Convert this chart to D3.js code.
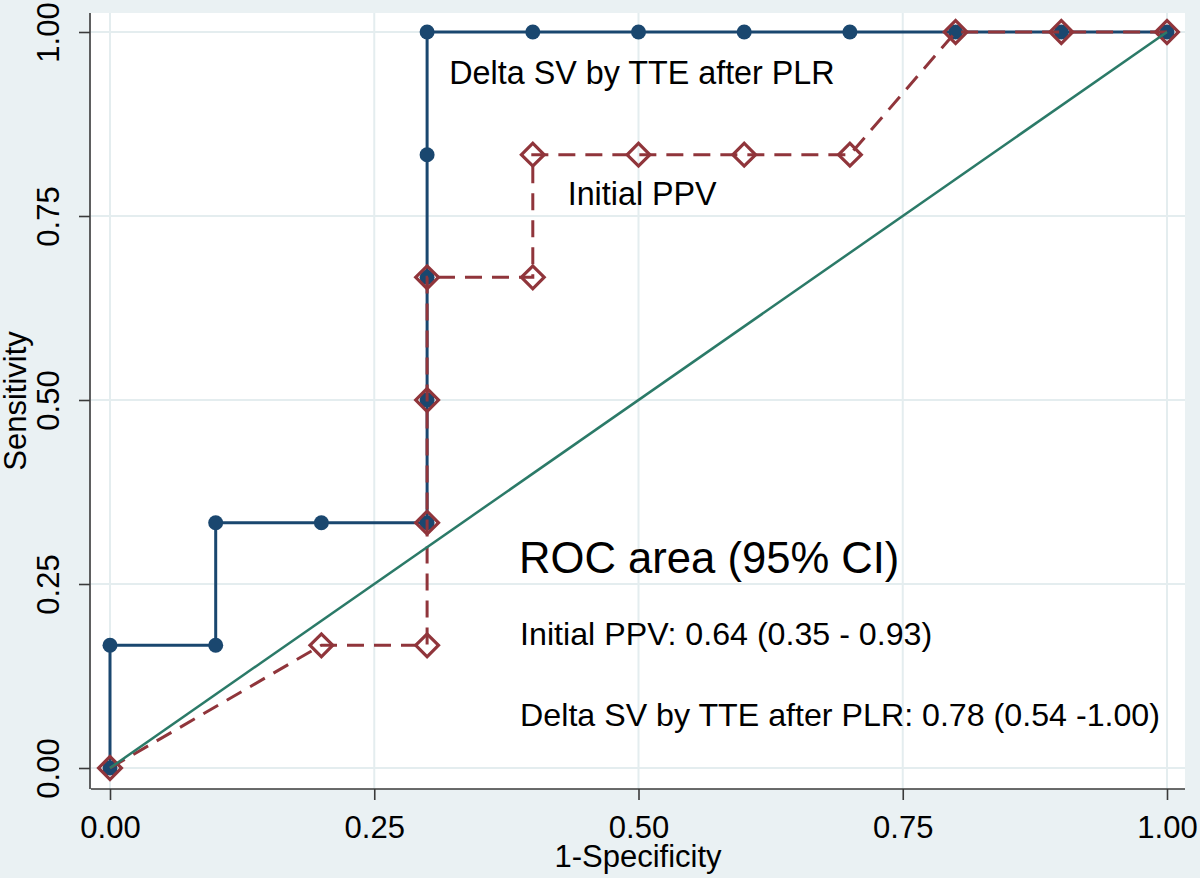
<!DOCTYPE html>
<html>
<head>
<meta charset="utf-8">
<script src="https://cdn.jsdelivr.net/npm/d3@7"></script>
<style>
  html, body { margin: 0; padding: 0; background: #eaf1f3; }
  svg { display: block; }
</style>
</head>
<body>
<svg id="chart" width="1200" height="878"></svg>
<script>
// ROC curves: Delta SV by TTE after PLR vs Initial PPV

// Delta SV by TTE after PLR (1-specificity, sensitivity)
const deltaFpr  = [0, 0, 0.1, 0.1, 0.2, 0.3, 0.3, 0.3, 0.3, 0.3, 0.4, 0.5, 0.6, 0.7, 0.8, 0.9, 1];
const deltaSens = [0, 0.1667, 0.1667, 0.3333, 0.3333, 0.3333, 0.5, 0.6667, 0.8333, 1, 1, 1, 1, 1, 1, 1, 1];

// Initial PPV
const ppvFpr  = [0, 0.2, 0.3, 0.3, 0.3, 0.3, 0.4, 0.4, 0.5, 0.6, 0.7, 0.8, 0.9, 1];
const ppvSens = [0, 0.1667, 0.1667, 0.3333, 0.5, 0.6667, 0.6667, 0.8333, 0.8333, 0.8333, 0.8333, 1, 1, 1];

// reference line
const refFpr  = [0, 1];
const refSens = [0, 1];

const tickVals = [0, 0.25, 0.5, 0.75, 1];

const xTitle = '1-Specificity';
const yTitle = 'Sensitivity';
const curveLabels = ['Delta SV by TTE after PLR', 'Initial PPV'];
const statTitle = 'ROC area (95% CI)';
const statLines = ['Initial PPV: 0.64 (0.35 - 0.93)', 'Delta SV by TTE after PLR: 0.78 (0.54 -1.00)'];

const FONT = '"Liberation Sans", Arial, sans-serif';
const NAVY = '#1a476f', MAROON = '#90353b', GREEN = '#2b7a68';

const svg = d3.select('#chart');
const W = 1200, H = 878;
const plot = { left: 91, right: 1185, top: 13, bottom: 789 };

const x = d3.scaleLinear().domain([0, 1]).range([110, 1167]);
const y = d3.scaleLinear().domain([0, 1]).range([768, 32]);

svg.append('rect').attr('width', W).attr('height', H).attr('fill', '#eaf1f3');
svg.append('rect')
  .attr('x', plot.left).attr('y', plot.top)
  .attr('width', plot.right - plot.left).attr('height', plot.bottom - plot.top)
  .attr('fill', '#ffffff');

// grid
const grid = svg.append('g');
grid.selectAll('line.gx').data(tickVals).join('line')
  .attr('x1', d => x(d)).attr('x2', d => x(d))
  .attr('y1', plot.top).attr('y2', plot.bottom)
  .attr('stroke', '#e4edef').attr('stroke-width', 2);
grid.selectAll('line.gy').data(tickVals).join('line')
  .attr('y1', d => y(d)).attr('y2', d => y(d))
  .attr('x1', plot.left).attr('x2', plot.right)
  .attr('stroke', '#e4edef').attr('stroke-width', 2);

// axes
const xAxis = d3.axisBottom(x).tickValues(tickVals).tickFormat(d3.format('.2f')).tickSize(11).tickSizeOuter(0);
const yAxis = d3.axisLeft(y).tickValues(tickVals).tickFormat(d3.format('.2f')).tickSize(11).tickSizeOuter(0);

const gx = svg.append('g').attr('transform', `translate(0,${plot.bottom})`).call(xAxis);
gx.select('.domain').attr('d', `M${plot.left},0H${plot.right}`);
const gy = svg.append('g').attr('transform', `translate(${plot.left - 1},0)`).call(yAxis);
gy.select('.domain').attr('d', `M0,${plot.top}V${plot.bottom}`);

[gx, gy].forEach(g => {
  g.select('.domain').attr('stroke', '#3a3a3a').attr('stroke-width', 1.6);
  g.selectAll('.tick line').attr('stroke', '#3a3a3a').attr('stroke-width', 1.6);
  g.selectAll('.tick text').attr('fill', '#000').style('font-family', FONT).style('font-size', '31px');
});
gx.selectAll('.tick text').attr('dy', null).attr('y', 49);
gy.selectAll('.tick text')
  .attr('x', null).attr('dy', null)
  .attr('text-anchor', 'middle')
  .attr('transform', 'translate(-31,0) rotate(-90)');

// axis titles
svg.append('text').text(xTitle)
  .attr('x', (plot.left + plot.right) / 2).attr('y', 867)
  .attr('text-anchor', 'middle').style('font-family', FONT).style('font-size', '31px');
svg.append('text').text(yTitle)
  .attr('transform', `translate(26,${(plot.top + plot.bottom) / 2}) rotate(-90)`)
  .attr('text-anchor', 'middle').style('font-family', FONT).style('font-size', '31px');

// series
const delta = deltaFpr.map((f, i) => ({ f, s: deltaSens[i] }));
const ppv = ppvFpr.map((f, i) => ({ f, s: ppvSens[i] }));
const ref = refFpr.map((f, i) => ({ f, s: refSens[i] }));
const line = d3.line().x(d => x(d.f)).y(d => y(d.s));

svg.append('path').datum(delta).attr('d', line)
  .attr('fill', 'none').attr('stroke', NAVY).attr('stroke-width', 3);
svg.append('g').selectAll('circle').data(delta).join('circle')
  .attr('cx', d => x(d.f)).attr('cy', d => y(d.s)).attr('r', 7.5)
  .attr('fill', NAVY);

svg.append('path').datum(ppv).attr('d', line)
  .attr('fill', 'none').attr('stroke', MAROON).attr('stroke-width', 3)
  .attr('stroke-dasharray', '17,10');
const dia = d3.symbol().type(d3.symbolSquare).size(260);
svg.append('g').selectAll('path').data(ppv).join('path')
  .attr('d', dia)
  .attr('transform', d => `translate(${x(d.f)},${y(d.s)}) rotate(45)`)
  .attr('fill', 'none').attr('stroke', MAROON).attr('stroke-width', 3.2);

svg.append('path').datum(ref).attr('d', line)
  .attr('fill', 'none').attr('stroke', GREEN).attr('stroke-width', 2.5);

// annotations (placed in data coordinates)
const ann = svg.append('g').style('font-family', FONT).attr('fill', '#000');
ann.append('text').text(curveLabels[0]).attr('x', x(0.321)).attr('y', y(0.929)).style('font-size', '32.3px');
ann.append('text').text(curveLabels[1]).attr('x', x(0.433)).attr('y', y(0.765)).style('font-size', '32.3px');
ann.append('text').text(statTitle).attr('x', x(0.387)).attr('y', y(0.265)).style('font-size', '43.6px');
ann.append('text').text(statLines[0]).attr('x', x(0.388)).attr('y', y(0.167)).style('font-size', '32.2px');
ann.append('text').text(statLines[1]).attr('x', x(0.388)).attr('y', y(0.057)).style('font-size', '32.2px');
</script>
</body>
</html>
